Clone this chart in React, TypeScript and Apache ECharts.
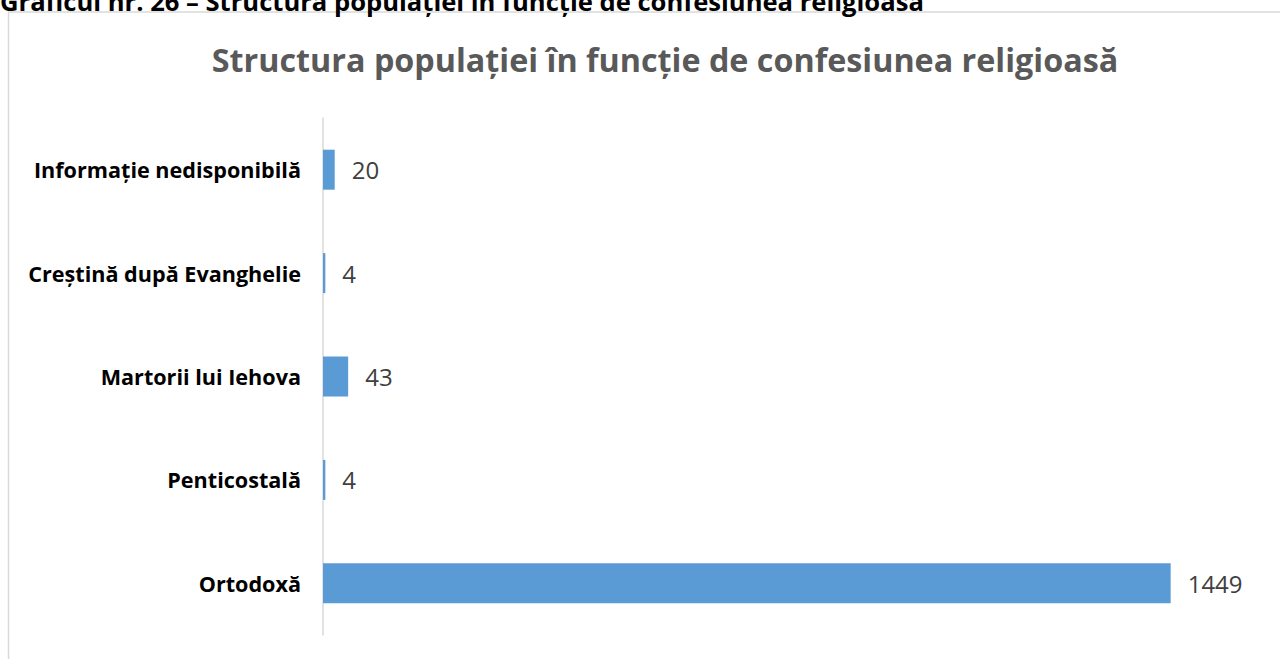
import React, { useEffect, useRef } from "react";
import * as echarts from "echarts";

const categories = [
  "Informație nedisponibilă",
  "Creștină după Evanghelie",
  "Martorii lui Iehova",
  "Penticostală",
  "Ortodoxă",
];
const values = [20, 4, 43, 4, 1449];
const chartTitle = "Structura populației în funcție de confesiunea religioasă";
const caption = "Graficul nr. 26 – Structura populației în funcție de confesiunea religioasă";

export default function App() {
  const ref = useRef<HTMLDivElement>(null);
  useEffect(() => {
    if (!ref.current) return;
    const chart = echarts.init(ref.current, null, { renderer: "svg" });
    chart.setOption({
      animation: false,
      backgroundColor: "#ffffff",
      title: {
        text: chartTitle,
        left: 660,
        textAlign: "center",
        top: 38,
        textStyle: {
          fontFamily: "Open Sans",
          fontSize: 32.3,
          fontWeight: "bold",
          color: "#595959",
        },
      },
      graphic: [
        {
          type: "rect",
          shape: { x: 8.5, y: 12, width: 1290, height: 700 },
          style: { fill: "none", stroke: "#d9d9d9", lineWidth: 1.5 },
          silent: true,
        },
        {
          type: "text",
          x: 0,
          y: -12,
          style: {
            text: caption,
            font: "bold 25.6px 'Open Sans'",
            fill: "#000000",
            textVerticalAlign: "top",
          },
        },
      ],
      grid: { left: 323, right: 21, top: 118, bottom: 24, containLabel: false },
      xAxis: {
        type: "value",
        min: 0,
        max: 1600,
        show: false,
      },
      yAxis: {
        type: "category",
        data: categories,
        inverse: true,
        axisLine: { show: true, lineStyle: { color: "#d9d9d9", width: 1.5 } },
        axisTick: { show: false },
        axisLabel: {
          margin: 22,
          fontFamily: "Open Sans",
          fontSize: 21.6,
          fontWeight: "bold",
          color: "#000000",
        },
      },
      series: [
        {
          type: "bar",
          data: values,
          barWidth: 40,
          itemStyle: { color: "#5b9bd5" },
          label: {
            show: true,
            position: "right",
            distance: 17,
            fontFamily: "Open Sans",
            fontSize: 24,
            color: "#404040",
          },
        },
      ],
    });
    return () => chart.dispose();
  }, []);
  return (
    <div
      ref={ref}
      style={{ position: "fixed", left: 0, top: 0, width: 1280, height: 659 }}
    />
  );
}
